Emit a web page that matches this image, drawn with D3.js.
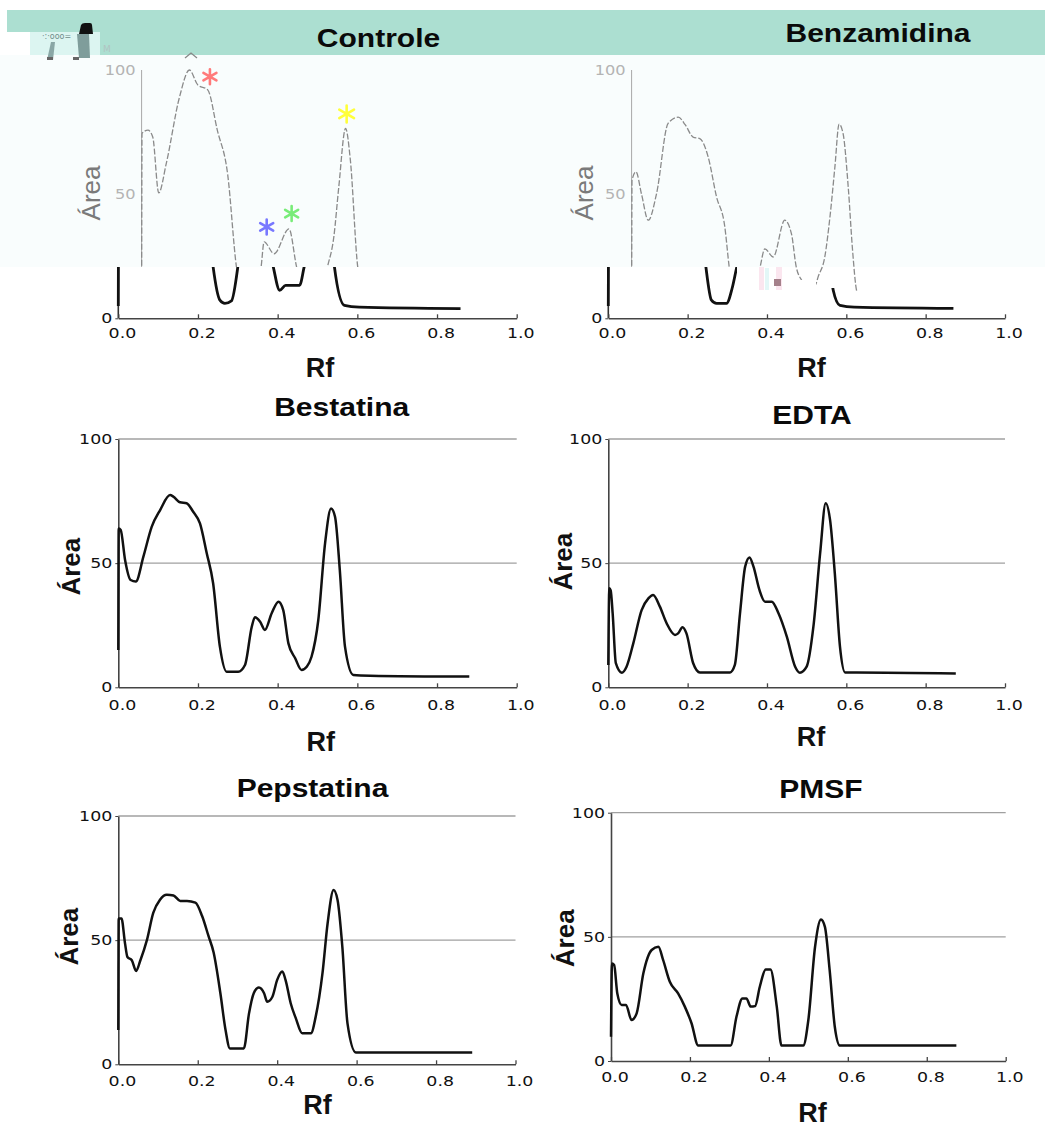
<!DOCTYPE html>
<html><head><meta charset="utf-8">
<script src="https://cdn.jsdelivr.net/npm/d3@7"></script>
<style>body{margin:0;background:#fff}</style>
</head><body>
<svg id="c" width="1045" height="1127"></svg>
<script>
// ---------------- DATA ----------------
const titles = ["Controle","Benzamidina","Bestatina","EDTA","Pepstatina","PMSF"];
const xLabel = "Rf";
const yLabel = "Área";
const xTicks = [0,0.2,0.4,0.6,0.8,1.0];
const xTickLabels = ["0.0","0.2","0.4","0.6","0.8","1.0"];
const yTicks = [0,50,100];
const yTickLabels = ["0","50","100"];

// [Rf, Área]
const controle = [[0,5],[0.001,74.5],[0.016,75.8],[0.028,73],[0.043,50.5],[0.062,62.4],[0.095,89],[0.12,100],[0.141,94],[0.166,92],[0.19,75.8],[0.216,58],[0.238,20.7],[0.255,7.3],[0.2675,6],[0.284,7],[0.30,20.7],[0.3075,30.8],[0.3325,26],[0.37,36],[0.389,20.7],[0.405,11.3],[0.42,13.3],[0.455,13.3],[0.4665,20.7],[0.4825,32.8],[0.495,53],[0.512,76.5],[0.524,63.7],[0.5425,20.7],[0.5675,5.2],[0.605,4.5],[0.859,3.9]];
const benzamidina = [[0,5],[0.001,55.6],[0.011,59],[0.025,50],[0.042,39.5],[0.063,50.3],[0.092,78.5],[0.1175,81],[0.135,78],[0.155,73],[0.172,72.4],[0.193,65],[0.214,49],[0.235,36.8],[0.246,20.7],[0.26,7.3],[0.273,6],[0.298,6],[0.312,12],[0.324,20.7],[0.336,28],[0.357,24.7],[0.386,39.5],[0.403,34],[0.415,20.7],[0.43,15],[0.45,11],[0.465,14],[0.47,16.6],[0.487,24.7],[0.5,40.8],[0.5125,61],[0.523,78.2],[0.533,74.5],[0.546,53],[0.557,27.4],[0.567,11.3],[0.584,5.2],[0.62,4.5],[0.87,4]];
const bestatina = [[0,15],[0.001,64],[0.006,63.4],[0.017,51.3],[0.031,43.2],[0.044,42.6],[0.063,52.6],[0.084,64.7],[0.105,71.4],[0.13,77.4],[0.138,76.8],[0.155,74.5],[0.1715,74.1],[0.188,70.7],[0.205,66],[0.222,54],[0.238,41.9],[0.255,16.4],[0.272,6.3],[0.301,6.3],[0.318,9],[0.335,24.4],[0.343,28.2],[0.356,26.4],[0.368,23.1],[0.385,29.8],[0.402,34.5],[0.414,31.1],[0.427,17.7],[0.444,11.7],[0.46,7],[0.473,8.3],[0.485,12.3],[0.502,27.1],[0.519,58],[0.534,72],[0.544,68.7],[0.556,47.2],[0.569,16.4],[0.59,5],[0.632,4.7],[0.881,4.3]];
const edta = [[0,9],[0.0025,39.9],[0.006,39],[0.011,29.8],[0.019,9.7],[0.034,5.9],[0.046,8.3],[0.063,17.7],[0.084,31.1],[0.101,35.8],[0.113,37.2],[0.13,32.5],[0.147,25.8],[0.168,21.1],[0.176,21.7],[0.187,24.2],[0.197,21.7],[0.214,9.7],[0.231,6],[0.307,6],[0.319,9],[0.332,29.8],[0.345,48.6],[0.356,52.3],[0.366,48.6],[0.381,39.2],[0.395,34.5],[0.412,34.5],[0.429,29.8],[0.45,20.4],[0.471,8.3],[0.483,5.9],[0.5,8.3],[0.517,24.4],[0.534,54],[0.548,74.1],[0.559,67.4],[0.571,45.9],[0.584,16.4],[0.597,6],[0.626,6],[0.876,5.6]];
const pepstatina = [[0,13.8],[0.001,58.7],[0.008,58.7],[0.017,48.6],[0.023,43.2],[0.034,41.9],[0.045,37.6],[0.055,41.6],[0.072,50],[0.088,61],[0.105,66.3],[0.122,68.3],[0.139,68],[0.156,65.8],[0.173,65.8],[0.194,65.1],[0.211,59.7],[0.227,51.7],[0.24,45],[0.257,28.6],[0.27,13.8],[0.281,6.4],[0.316,6.4],[0.329,20.4],[0.341,28.6],[0.354,30.9],[0.367,28.6],[0.375,25.2],[0.388,27.2],[0.4,34],[0.413,37.4],[0.421,34],[0.434,24.6],[0.447,18.5],[0.463,12.5],[0.485,12.5],[0.497,19.2],[0.514,36.6],[0.527,56.8],[0.542,70.2],[0.552,66.2],[0.564,47.4],[0.577,16.5],[0.598,4.8],[0.636,4.8],[0.891,4.8]];
const pmsf = [[0,9.8],[0.0025,39.3],[0.008,38.7],[0.016,27.2],[0.027,22.6],[0.038,22.6],[0.052,16.5],[0.065,19.2],[0.082,35.3],[0.103,44.7],[0.12,46],[0.132,40.7],[0.149,31.9],[0.17,27.2],[0.187,21.9],[0.204,15.2],[0.221,6.2],[0.303,6.2],[0.318,17.9],[0.333,25.2],[0.343,25.2],[0.354,21.9],[0.365,22.1],[0.377,29.9],[0.392,36.9],[0.404,36.9],[0.42,21.9],[0.432,6.2],[0.487,6.2],[0.5,16.5],[0.517,46],[0.532,57],[0.542,54],[0.554,36.6],[0.567,13.8],[0.58,6.2],[0.875,6.2]];
const series = [controle, benzamidina, bestatina, edta, pepstatina, pmsf];

// asterisk markers on Controle [Rf, Área]
const asteriskRf = [0.184, 0.1715, 0.314, 0.3766, 0.5147];
const asteriskArea = [107, 97.3, 36.8, 42.2, 82.3];

// ---------------- LAYOUT / STYLE ----------------
const asteriskColors = ["#111","#ff7a7a","#7878ff","#78ec78","#ffff3a"];
const asteriskSize = [8, 7.5, 7.5, 7.5, 8.5];
const layout = [
 {x0:118.3,x1:516.7,y0:318.3,y100:70, tx:378.5,ty:47,  rfx:320,  rfy:377, ax:88,  ay:193, pad:9,  top:true, shift:23.3},
 {x0:608.3,x1:1005, y0:318.3,y100:70, tx:878,  ty:42,  rfx:811.5,rfy:377, ax:580.5,ay:193, pad:9,  top:true, shift:23.3},
 {x0:118.3,x1:516.7,y0:687.3,y100:439,tx:341.7,ty:416, rfx:320.8,rfy:751, ax:67.5,ay:566.7,pad:12},
 {x0:608.3,x1:1005, y0:687.3,y100:439,tx:812,  ty:424, rfx:811,  rfy:746, ax:560, ay:561.7,pad:12},
 {x0:118.3,x1:515.5,y0:1064.3,y100:816,tx:312.5,ty:797,rfx:317.5,rfy:1114,ax:65.8,ay:936.7,pad:11},
 {x0:611,  x1:1005.7,y0:1061,y100:812.7,tx:821, ty:797.5,rfx:812.5,rfy:1122,ax:562,ay:938.3,pad:11}
];
const TITLE_FONT = "'Liberation Sans', Arial, sans-serif";
const TICK_FONT = "'DejaVu Sans', Verdana, sans-serif";

const svg = d3.select("#c");
const defs = svg.append("defs");

// header band and faded overlay
svg.append("rect").attr("x",7).attr("y",10).attr("width",1038).attr("height",45).attr("fill","#acdfd1");
svg.append("rect").attr("x",0).attr("y",55).attr("width",1045).attr("height",212).attr("fill","#f9fdfd");

function clip(id, rects){
  const c = defs.append("clipPath").attr("id",id);
  rects.forEach(r=>c.append("rect").attr("x",r[0]).attr("y",r[1]).attr("width",r[2]).attr("height",r[3]));
}
clip("fade0", [[0,55,520,212]]);
clip("fade1", [[520,55,525,212],[793,267,13,13],[816,267,44,25]]);
clip("solid0", [[0,267,520,60]]);
clip("solid1", [[520,267,217,60],[831,288,214,40]]);
clip("belowBand", [[0,45,1045,1100]]);

function asteriskPath(r){
  const s = r*Math.sin(Math.PI/3), c = r*Math.cos(Math.PI/3);
  return `M0,${-r}L0,${r}M${-s},${-c}L${s},${c}M${-s},${c}L${s},${-c}`;
}

function styleTicks(g, size, fill){
  g.attr("font-family",TICK_FONT).attr("font-size",size);
  g.selectAll("text").attr("fill",fill).attr("transform","scale(1.2,1)");
}

layout.forEach((L,i)=>{
  const data = series[i];
  const x = d3.scaleLinear().domain([0,1]).range([L.x0,L.x1]);
  const y = d3.scaleLinear().domain([0,100]).range([L.y0,L.y100]);
  const line = d3.line().x(d=>x(d[0])).y(d=>y(d[1])).curve(d3.curveMonotoneX);

  if(L.top){
    const fx = d3.scaleLinear().domain([0,1]).range([L.x0+L.shift,L.x1+L.shift]);
    const fline = d3.line().x(d=>fx(d[0])).y(d=>y(d[1])).curve(d3.curveMonotoneX);
    const gF = svg.append("g").attr("clip-path",`url(#fade${i})`);
    gF.append("line").attr("x1",fx(0)).attr("x2",fx(0)).attr("y1",y(0)).attr("y2",y(100))
      .attr("stroke","#a8a8a8").attr("stroke-width",1);
    const ya = gF.append("g").attr("transform",`translate(${fx(0)},0)`)
      .call(d3.axisLeft(y).tickValues([50,100]).tickFormat(d=>yTickLabels[yTicks.indexOf(d)]).tickSize(0).tickPadding(5));
    ya.select(".domain").remove();
    styleTicks(ya, 13.5, "#b4b4b4");
    gF.append("text").attr("transform",`translate(${L.ax+12},${L.ay}) rotate(-90)`)
      .attr("text-anchor","middle").attr("font-family",TITLE_FONT).attr("font-size",26)
      .attr("fill","#7a7a7a").text(yLabel);
    gF.append("path").attr("d",fline(data)).attr("fill","none").attr("stroke","#8a8a8a")
      .attr("stroke-width",1.3).attr("stroke-dasharray","6,2");

    const gS = svg.append("g").attr("clip-path",`url(#solid${i})`);
    gS.append("line").attr("x1",x(0)).attr("x2",x(0)).attr("y1",y(0)).attr("y2",y(100))
      .attr("stroke","#333").attr("stroke-width",1.6);
    gS.append("path").attr("d",line(data)).attr("fill","none").attr("stroke","#111")
      .attr("stroke-width",2.8).attr("stroke-linejoin","round");

    const y0a = svg.append("g").attr("transform",`translate(${x(0)},0)`)
      .call(d3.axisLeft(y).tickValues([0]).tickFormat(()=>yTickLabels[0]).tickSize(3).tickPadding(2));
    y0a.select(".domain").remove();
    y0a.selectAll("line").attr("stroke","#444");
    styleTicks(y0a, 14.5, "#111");

    if(i===0){
      asteriskRf.forEach((rf,k)=>{
        const p = svg.append("path").attr("transform",`translate(${fx(rf)},${y(asteriskArea[k])})`)
          .attr("d",asteriskPath(asteriskSize[k])).attr("fill","none")
          .attr("stroke",asteriskColors[k]).attr("stroke-width",k===0?3.2:2.6).attr("stroke-linecap","round");
        if(k===0) p.attr("clip-path","url(#belowBand)");
      });
    }
  } else {
    svg.append("g").selectAll("line").data([50,100]).join("line")
      .attr("x1",x(0)).attr("x2",x(1)).attr("y1",d=>y(d)).attr("y2",d=>y(d))
      .attr("stroke","#a0a0a0").attr("stroke-width",1.3);
    const ya = svg.append("g").attr("transform",`translate(${x(0)},0)`)
      .call(d3.axisLeft(y).tickValues(yTicks).tickFormat((d,k)=>yTickLabels[k]).tickSizeInner(3).tickSizeOuter(0).tickPadding(2));
    ya.select(".domain").attr("stroke","#444").attr("stroke-width",1.6);
    ya.selectAll(".tick line").attr("stroke","#444");
    styleTicks(ya, 14.5, "#111");
    svg.append("path").attr("d",line(data)).attr("fill","none").attr("stroke","#111")
      .attr("stroke-width",2.5).attr("stroke-linejoin","round");
    svg.append("text").attr("transform",`translate(${L.ax+12},${L.ay}) rotate(-90)`)
      .attr("text-anchor","middle").attr("font-family",TITLE_FONT).attr("font-weight","bold")
      .attr("font-size",26).attr("fill","#111").text(yLabel);
  }

  const xa = svg.append("g").attr("transform",`translate(0,${L.y0})`)
    .call(d3.axisBottom(x).tickValues(xTicks).tickFormat((d,k)=>xTickLabels[k]).tickSizeInner(-4).tickSizeOuter(0).tickPadding(L.pad));
  xa.select(".domain").attr("stroke","#444").attr("stroke-width",1.6);
  xa.selectAll(".tick line").attr("stroke","#444").attr("stroke-width",1.3);
  styleTicks(xa, 14.5, "#111");
  xa.selectAll("text").attr("dx",3);

  svg.append("text").attr("transform",`translate(${L.tx},${L.ty}) scale(1.2,1)`)
    .attr("text-anchor","middle").attr("font-family",TITLE_FONT).attr("font-weight","bold")
    .attr("font-size",25).attr("fill","#0a0a0a").text(titles[i]);
  svg.append("text").attr("x",L.rfx).attr("y",L.rfy).attr("text-anchor","middle")
    .attr("font-family",TITLE_FONT).attr("font-weight","bold").attr("font-size",27)
    .attr("fill","#111").text(xLabel);
});

// image artifacts in the reference (top-left logo remnant, Benzamidina glitch)
const art = svg.append("g");
art.append("rect").attr("x",0).attr("y",32).attr("width",30).attr("height",23).attr("fill","#ffffff");
art.append("rect").attr("x",30).attr("y",32).attr("width",70).attr("height",23).attr("fill","#dcf5f1");
art.append("path").attr("d","M79,34 L81,25 Q82,23 85,23 L90,23 Q92,23 92,25 L93,34 Z").attr("fill","#111");
art.append("path").attr("d","M77,34 L89,34 L90,58 L79,58 Z").attr("fill","#7f9d9b");
art.append("path").attr("d","M51,42 L55,42 L53,60 L47,60 Z").attr("fill","#8aa7a6");
art.append("rect").attr("x",47).attr("y",57).attr("width",6).attr("height",3).attr("fill","#666");
art.append("rect").attr("x",73).attr("y",57).attr("width",6).attr("height",3).attr("fill","#666");
art.append("text").attr("x",42).attr("y",39).attr("font-size",8).attr("font-family",TICK_FONT).attr("fill","#6f8c8a").text("·:·ooo=");
art.append("text").attr("x",103).attr("y",52).attr("font-size",9).attr("font-family",TICK_FONT).attr("fill","#b0c4c2").text("M");
art.append("path").attr("d","M185,58 L191,53 L197,58").attr("fill","none").attr("stroke","#888").attr("stroke-width",1.3);
art.append("rect").attr("x",759).attr("y",267).attr("width",5).attr("height",23).attr("fill","#fbe6ef");
art.append("rect").attr("x",765).attr("y",268).attr("width",4).attr("height",22).attr("fill","#e3f7f7");
art.append("rect").attr("x",776).attr("y",267).attr("width",6).attr("height",23).attr("fill","#fbe6ef");
art.append("rect").attr("x",774).attr("y",279).attr("width",7).attr("height",7).attr("fill","#a5808a");
</script>
</body></html>
